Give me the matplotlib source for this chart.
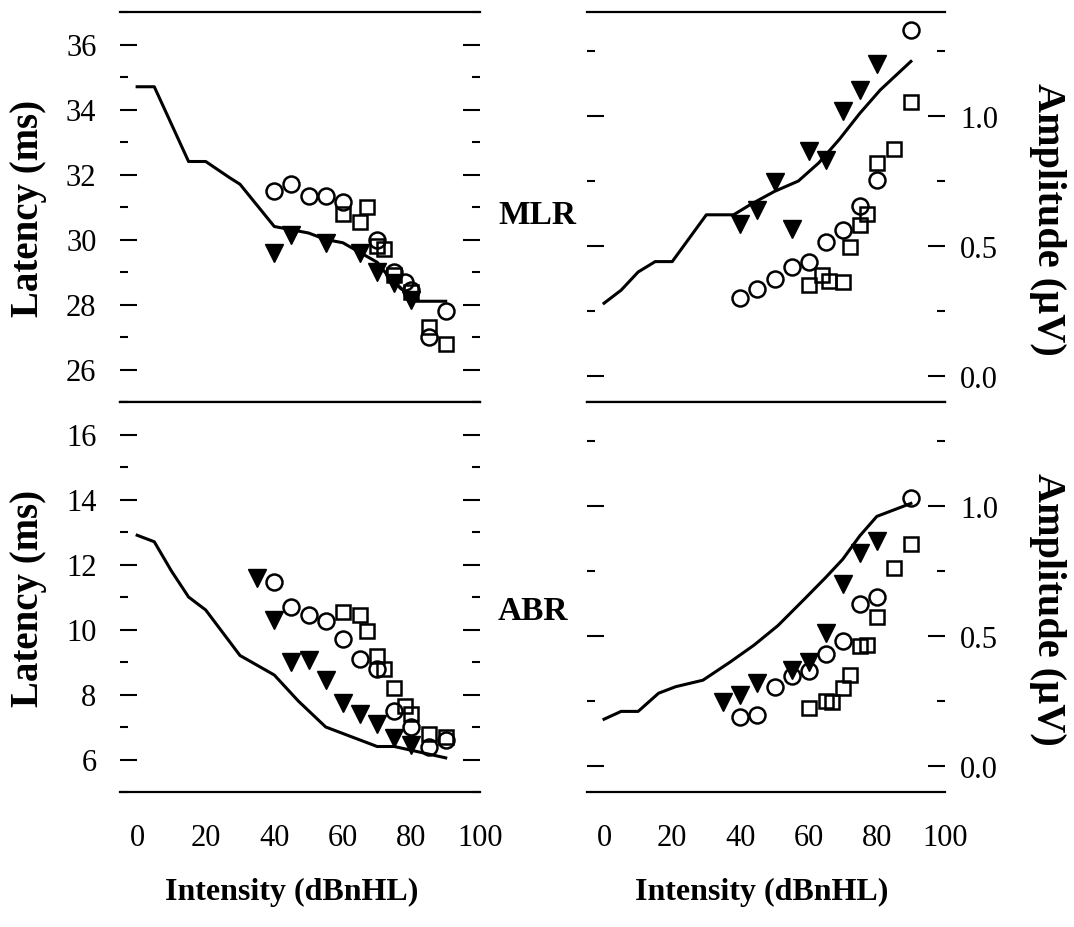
import matplotlib
matplotlib.use("Agg")
import matplotlib.pyplot as plt
from matplotlib.ticker import MultipleLocator

plt.rcParams["font.family"] = ["Liberation Serif", "DejaVu Serif"]

# MLR latency (top left)
mlr_lat_line_db = [0, 5, 15, 20, 27, 30, 40, 45, 50, 55, 60, 65, 70, 73, 77, 81, 84, 90]
mlr_lat_line = [34.7, 34.7, 32.4, 32.4, 31.9, 31.7, 30.4, 30.3, 30.2, 30.0, 29.9, 29.6, 29.3, 28.9, 28.5, 28.1, 28.1, 28.1]
mlr_lat_circ_db = [40, 45, 50, 55, 60, 70, 75, 78, 80, 85, 90]
mlr_lat_circ = [31.5, 31.7, 31.35, 31.35, 31.15, 30.0, 29.0, 28.7, 28.45, 27.0, 27.8]
mlr_lat_sq_db = [60, 65, 67, 70, 72, 75, 80, 85, 90]
mlr_lat_sq = [30.8, 30.55, 31.0, 29.8, 29.7, 28.9, 28.4, 27.3, 26.8]
mlr_lat_tri_db = [40, 45, 55, 65, 70, 75, 80]
mlr_lat_tri = [29.6, 30.15, 29.9, 29.6, 29.0, 28.65, 28.15]

# MLR amplitude (top right)
mlr_amp_line_db = [0, 5, 10, 15, 20, 25, 30, 38, 43, 50, 57, 63, 69, 75, 81, 90]
mlr_amp_line = [0.28, 0.33, 0.40, 0.44, 0.44, 0.53, 0.62, 0.62, 0.66, 0.71, 0.75, 0.82, 0.91, 1.01, 1.10, 1.21]
mlr_amp_circ_db = [40, 45, 50, 55, 60, 65, 70, 75, 80, 90]
mlr_amp_circ = [0.30, 0.335, 0.375, 0.42, 0.44, 0.515, 0.56, 0.655, 0.755, 1.33]
mlr_amp_sq_db = [60, 64, 66, 70, 72, 75, 77, 80, 85, 90]
mlr_amp_sq = [0.35, 0.39, 0.365, 0.36, 0.495, 0.58, 0.625, 0.82, 0.875, 1.055]
mlr_amp_tri_db = [40, 45, 50, 55, 60, 65, 70, 75, 80]
mlr_amp_tri = [0.585, 0.64, 0.745, 0.565, 0.865, 0.83, 1.02, 1.10, 1.20]

# ABR latency (bottom left)
abr_lat_line_db = [0, 5, 10, 15, 20, 30, 40, 47, 55, 60, 70, 75, 90]
abr_lat_line = [12.9, 12.7, 11.8, 11.0, 10.6, 9.2, 8.6, 7.8, 7.0, 6.8, 6.4, 6.4, 6.05]
abr_lat_circ_db = [40, 45, 50, 55, 60, 65, 70, 75, 80, 85, 90]
abr_lat_circ = [11.45, 10.7, 10.45, 10.25, 9.7, 9.1, 8.8, 7.5, 7.0, 6.4, 6.6]
abr_lat_sq_db = [60, 65, 67, 70, 72, 75, 78, 80, 85, 90]
abr_lat_sq = [10.55, 10.45, 9.95, 9.2, 8.8, 8.2, 7.65, 7.4, 6.8, 6.7]
abr_lat_tri_db = [35, 40, 45, 50, 55, 60, 65, 70, 75, 80]
abr_lat_tri = [11.6, 10.3, 9.0, 9.05, 8.45, 7.75, 7.4, 7.1, 6.65, 6.45]

# ABR amplitude (bottom right)
abr_amp_line_db = [0, 5, 10, 16, 21, 29, 37, 44, 51, 59, 65, 70, 75, 80, 90]
abr_amp_line = [0.18, 0.21, 0.21, 0.28, 0.305, 0.33, 0.40, 0.465, 0.54, 0.645, 0.725, 0.795, 0.885, 0.96, 1.01]
abr_amp_circ_db = [40, 45, 50, 55, 60, 65, 70, 75, 80, 90]
abr_amp_circ = [0.19, 0.195, 0.305, 0.345, 0.365, 0.43, 0.48, 0.625, 0.65, 1.03]
abr_amp_sq_db = [60, 65, 67, 70, 72, 75, 77, 80, 85, 90]
abr_amp_sq = [0.225, 0.25, 0.245, 0.30, 0.35, 0.46, 0.465, 0.575, 0.76, 0.855]
abr_amp_tri_db = [35, 40, 45, 55, 60, 65, 70, 75, 80]
abr_amp_tri = [0.245, 0.275, 0.32, 0.37, 0.40, 0.51, 0.70, 0.82, 0.865]

x_ticks = [0, 20, 40, 60, 80, 100]

W, H = 1074, 928
fig = plt.figure(figsize=(W / 100, H / 100), dpi=100)


def px_axes(x0, x1, y0, y1):
    return fig.add_axes([x0 / W, 1 - y1 / H, (x1 - x0) / W, (y1 - y0) / H])


ax_tl = px_axes(120, 480, 13, 403)
ax_tr = px_axes(587, 945, 13, 403)
ax_bl = px_axes(120, 480, 403, 793)
ax_br = px_axes(587, 945, 403, 793)


def draw(ax, line, circ, sq, tri):
    ax.plot(line[0], line[1], color="black", lw=2.2, zorder=2)
    ax.plot(tri[0], tri[1], ls="none", marker="v", ms=13.5, color="black", zorder=3)
    ax.plot(circ[0], circ[1], ls="none", marker="o", ms=11.5, mfc="none",
            mec="black", mew=1.8, zorder=4)
    ax.plot(sq[0], sq[1], ls="none", marker="s", ms=10, mfc="none",
            mec="black", mew=1.8, zorder=4)


draw(ax_tl, (mlr_lat_line_db, mlr_lat_line), (mlr_lat_circ_db, mlr_lat_circ),
     (mlr_lat_sq_db, mlr_lat_sq), (mlr_lat_tri_db, mlr_lat_tri))
draw(ax_tr, (mlr_amp_line_db, mlr_amp_line), (mlr_amp_circ_db, mlr_amp_circ),
     (mlr_amp_sq_db, mlr_amp_sq), (mlr_amp_tri_db, mlr_amp_tri))
draw(ax_bl, (abr_lat_line_db, abr_lat_line), (abr_lat_circ_db, abr_lat_circ),
     (abr_lat_sq_db, abr_lat_sq), (abr_lat_tri_db, abr_lat_tri))
draw(ax_br, (abr_amp_line_db, abr_amp_line), (abr_amp_circ_db, abr_amp_circ),
     (abr_amp_sq_db, abr_amp_sq), (abr_amp_tri_db, abr_amp_tri))

for ax in (ax_tl, ax_tr, ax_bl, ax_br):
    ax.set_xlim(-5, 100)
    ax.spines["left"].set_visible(False)
    ax.spines["right"].set_visible(False)
    ax.spines["top"].set_linewidth(1.6)
    ax.spines["bottom"].set_linewidth(1.6)
    ax.set_xticks(x_ticks)
    ax.tick_params(axis="x", length=0, labelsize=22, pad=22)
    ax.tick_params(axis="y", which="major", direction="in", length=12, width=1.5,
                   left=True, right=True, labelsize=22)
    ax.tick_params(axis="y", which="minor", direction="in", length=6, width=1.5,
                   left=True, right=True)

for ax in (ax_tl, ax_tr):
    ax.tick_params(axis="x", labelbottom=False)

ax_tl.set_ylim(25, 37)
ax_bl.set_ylim(5, 17)
for ax in (ax_tl, ax_bl):
    ax.yaxis.set_major_locator(MultipleLocator(2))
    ax.yaxis.set_minor_locator(MultipleLocator(1))
    ax.tick_params(axis="y", pad=17)
    ax.set_ylabel("Latency (ms)", fontsize=28, fontweight="bold",
                  rotation=90, va="center", ha="center")
    ax.yaxis.set_label_coords(-0.255, 0.5)

for ax in (ax_tr, ax_br):
    ax.set_ylim(-0.1, 1.4)
    ax.yaxis.set_major_locator(MultipleLocator(0.5))
    ax.yaxis.set_minor_locator(MultipleLocator(0.25))
    ax.yaxis.set_major_formatter(plt.FormatStrFormatter("%.1f"))
    ax.tick_params(axis="y", labelleft=False, labelright=True, pad=11)
    ax.yaxis.set_label_position("right")
    ax.set_ylabel("Amplitude (\u00b5V)", fontsize=29, fontweight="bold",
                  rotation=270, va="center", ha="center")
    ax.yaxis.set_label_coords(1.285, 0.47)

ax_bl.set_xlabel("Intensity (dBnHL)", fontsize=23, fontweight="bold", va="center")
ax_bl.xaxis.set_label_coords(0.478, -0.256)
ax_br.set_xlabel("Intensity (dBnHL)", fontsize=23, fontweight="bold", va="center")
ax_br.xaxis.set_label_coords(0.489, -0.256)

fig.text(498 / W, 1 - 216 / H, "MLR", ha="left", va="center", fontsize=24, fontweight="bold")
fig.text(498 / W, 1 - 612 / H, "ABR", ha="left", va="center", fontsize=24, fontweight="bold")

fig.savefig("out.png", dpi=100)
